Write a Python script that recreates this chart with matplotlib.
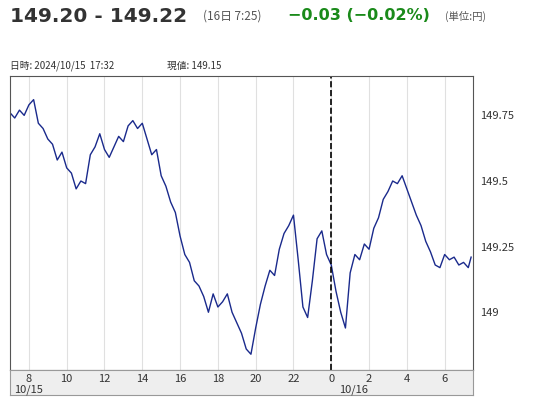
import matplotlib.pyplot as plt
from matplotlib.ticker import FixedLocator

plt.rcParams['font.family'] = ['Noto Sans CJK JP', 'DejaVu Sans']

# hours since 10/15 00:00
hours = [7.0, 7.25, 7.5, 7.75, 8.0, 8.25, 8.5, 8.75, 9.0, 9.25, 9.5, 9.75,
         10.0, 10.25, 10.5, 10.75, 11.0, 11.25, 11.5, 11.75, 12.0, 12.25, 12.5, 12.75,
         13.0, 13.25, 13.5, 13.75, 14.0, 14.25, 14.5, 14.75, 15.0, 15.25, 15.5, 15.75,
         16.0, 16.25, 16.5, 16.75, 17.0, 17.25, 17.5, 17.75, 18.0, 18.25, 18.5, 18.75,
         19.0, 19.25, 19.5, 19.75, 20.0, 20.25, 20.5, 20.75, 21.0, 21.25, 21.5, 21.75,
         22.0, 22.25, 22.5, 22.75, 23.0, 23.25, 23.5, 23.75, 24.0, 24.25, 24.5, 24.75,
         25.0, 25.25, 25.5, 25.75, 26.0, 26.25, 26.5, 26.75, 27.0, 27.25, 27.5, 27.75,
         28.0, 28.25, 28.5, 28.75, 29.0, 29.25, 29.5, 29.75, 30.0, 30.25, 30.5, 30.75,
         31.0, 31.25, 31.4]
rate = [149.76, 149.74, 149.77, 149.75, 149.79, 149.81, 149.72, 149.70, 149.66, 149.64, 149.58, 149.61,
        149.55, 149.53, 149.47, 149.50, 149.49, 149.60, 149.63, 149.68, 149.62, 149.59, 149.63, 149.67,
        149.65, 149.71, 149.73, 149.70, 149.72, 149.66, 149.60, 149.62, 149.52, 149.48, 149.42, 149.38,
        149.29, 149.22, 149.19, 149.12, 149.10, 149.06, 149.00, 149.07, 149.02, 149.04, 149.07, 149.00,
        148.96, 148.92, 148.86, 148.84, 148.94, 149.03, 149.10, 149.16, 149.14, 149.24, 149.30, 149.33,
        149.37, 149.20, 149.02, 148.98, 149.12, 149.28, 149.31, 149.22, 149.18, 149.08, 149.00, 148.94,
        149.15, 149.22, 149.20, 149.26, 149.24, 149.32, 149.36, 149.43, 149.46, 149.50, 149.49, 149.52,
        149.47, 149.42, 149.37, 149.33, 149.27, 149.23, 149.18, 149.17, 149.22, 149.20, 149.21, 149.18,
        149.19, 149.17, 149.21]
xticks = [8, 10, 12, 14, 16, 18, 20, 22, 24, 26, 28, 30]
xlabels = ['8', '10', '12', '14', '16', '18', '20', '22', '0', '2', '4', '6']
yticks = [149.0, 149.25, 149.5, 149.75]
ylabels = ['149', '149.25', '149.5', '149.75']

W, H = 554, 400
fig = plt.figure(figsize=(W / 100, H / 100), dpi=100)

ax = fig.add_axes([10 / W, 30 / H, 463 / W, 294 / H])
ax.plot(hours, rate, color='#1a2a8c', lw=1)
ax.set_xlim(7.0, 31.5)
ax.set_ylim(148.78, 149.9)
ax.xaxis.set_major_locator(FixedLocator(xticks))
ax.grid(axis='x', color='#e0e0e0', lw=0.8)
ax.axvline(24, color='black', ls='--', lw=1.2)
ax.tick_params(axis='x', length=0, labelbottom=False)
ax.yaxis.tick_right()
ax.set_yticks(yticks, ylabels)
ax.tick_params(axis='y', length=0, labelsize=8, pad=5, colors='#333333')
for s in ax.spines.values():
    s.set_color('#555555')

bx = fig.add_axes([10 / W, 5 / H, 463 / W, 25 / H], facecolor='#eeeeee')
bx.set_xlim(ax.get_xlim())
bx.set_yticks([])
bx.set_xticks([])
for s in bx.spines.values():
    s.set_color('#999999')
for t, lab in zip(xticks, xlabels):
    bx.text(t, 0.62, lab, ha='center', va='center', fontsize=8, color='#333333')
bx.text(8, 0.2, '10/15', ha='center', va='center', fontsize=8, color='#333333')
bx.text(25.2, 0.2, '10/16', ha='center', va='center', fontsize=8, color='#333333')

fig.text(10 / W, 1 - 16 / H, '149.20 - 149.22', fontsize=14.5, fontweight='bold',
         color='#333333', va='center', family='DejaVu Sans')
fig.text(203 / W, 1 - 16 / H, '(16日 7:25)', fontsize=8.5, color='#555555', va='center')
fig.text(288 / W, 1 - 16 / H, '−0.03 (−0.02%)', fontsize=11.5, fontweight='bold',
         color='#1a8a1a', va='center', family='DejaVu Sans')
fig.text(445 / W, 1 - 16 / H, '(単位:円)', fontsize=7.5, color='#555555', va='center')
fig.text(10 / W, 1 - 66 / H, '日時: 2024/10/15  17:32', fontsize=7, color='#333333', va='center')
fig.text(167 / W, 1 - 66 / H, '現値: 149.15', fontsize=7, color='#333333', va='center')

fig.savefig('out.png', dpi=100)
